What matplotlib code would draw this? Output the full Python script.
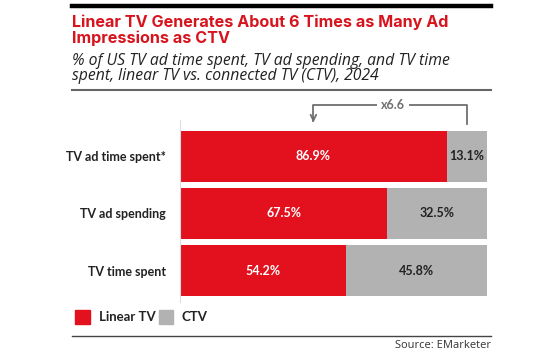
import matplotlib.pyplot as plt
from matplotlib.lines import Line2D
from matplotlib.patches import Rectangle

categories = ['TV ad time spent*', 'TV ad spending', 'TV time spent']
linear_tv = [86.9, 67.5, 54.2]
ctv = [13.1, 32.5, 45.8]
ratio_label = 'x6.6'

RED = '#E3101E'
GRAY = '#B2B2B2'

plt.rcParams['font.family'] = ['Lato', 'DejaVu Sans']

fig = plt.figure(figsize=(5.6, 3.5), dpi=100)
W, H = 560, 350

def fx(px):
    return px / W

def fy(py):
    return 1 - py / H

# frame lines
fig.add_artist(Line2D([fx(72), fx(491)], [fy(6), fy(6)], color='black', lw=3.2))
fig.add_artist(Line2D([fx(72), fx(491)], [fy(90), fy(90)], color='#666666', lw=1.5))
fig.add_artist(Line2D([fx(72), fx(491)], [fy(336), fy(336)], color='#444444', lw=1.0))

fig.text(fx(72), fy(27), 'Linear TV Generates About 6 Times as Many Ad', color='#D7141E',
         fontsize=11.6, fontweight='bold', va='baseline', family=['Inter', 'DejaVu Sans'])
fig.text(fx(72), fy(43), 'Impressions as CTV', color='#D7141E',
         fontsize=11.6, fontweight='bold', va='baseline', family=['Inter', 'DejaVu Sans'])
fig.text(fx(72), fy(65), '% of US TV ad time spent, TV ad spending, and TV time', color='#222222',
         fontsize=11.3, style='italic', va='baseline', family=['Open Sans', 'DejaVu Sans'])
fig.text(fx(72), fy(80.5), 'spent, linear TV vs. connected TV (CTV), 2024', color='#222222',
         fontsize=11.3, style='italic', va='baseline', family=['Open Sans', 'DejaVu Sans'])

ax = fig.add_axes([fx(180), fy(302), fx(487) - fx(180), (302 - 120) / H])
y = list(range(len(categories)))
ax.barh(y, linear_tv, height=0.89, color=RED, label='Linear TV')
ax.barh(y, ctv, left=linear_tv, height=0.89, color=GRAY, label='CTV')
ax.set_xlim(0, 100)
ax.set_ylim(2.55, -0.63)
for side in ['top', 'right', 'bottom']:
    ax.spines[side].set_visible(False)
ax.spines['left'].set_color('#dddddd')
ax.spines['left'].set_linewidth(0.8)
ax.set_xticks([])
ax.set_yticks(y)
ax.set_yticklabels(categories, fontsize=9, fontweight='bold', color='#222222')
ax.tick_params(axis='y', length=0, pad=10)

for i in y:
    ax.text(linear_tv[i] / 2, i, f'{linear_tv[i]:.1f}%', color='white', fontsize=9,
            fontweight='bold', ha='center', va='center')
    ax.text(linear_tv[i] + ctv[i] / 2, i, f'{ctv[i]:.1f}%', color='#222222', fontsize=9,
            fontweight='bold', ha='center', va='center')

# ratio bracket arrow (data y: px offset from first bar centre / row pitch)
x_right = linear_tv[0] + ctv[0] / 2
x_left = linear_tv[0] / 2
y_top = -0.89
y_bot = -0.56
arrow_col = '#707070'
ax.plot([x_right, x_right, x_left, x_left], [y_bot, y_top, y_top, y_bot - 0.05],
        color=arrow_col, lw=1.3, clip_on=False)
ax.annotate('', xy=(x_left, y_bot + 0.02), xytext=(x_left, y_bot - 0.15),
            arrowprops=dict(arrowstyle='->', color=arrow_col, lw=1.3), annotation_clip=False)
ax.text((x_left + x_right) / 2 + 1, y_top, ratio_label, ha='center', va='center',
        fontsize=9, fontweight='bold', color=arrow_col, clip_on=False,
        bbox=dict(facecolor='white', edgecolor='none', pad=3))

# legend
fig.add_artist(Rectangle((fx(75), fy(324)), fx(15), 14 / H, color=RED))
fig.text(fx(99), fy(317), 'Linear TV', fontsize=9.5, fontweight='bold', va='center', color='#222222')
fig.add_artist(Rectangle((fx(159), fy(324)), fx(14), 14 / H, color=GRAY))
fig.text(fx(182), fy(317), 'CTV', fontsize=9.5, fontweight='bold', va='center', color='#222222')

fig.text(fx(491), fy(345), 'Source: EMarketer', fontsize=8, ha='right', va='center',
         color='#333333', family=['Open Sans', 'DejaVu Sans'])

fig.savefig('out.png', dpi=100)
